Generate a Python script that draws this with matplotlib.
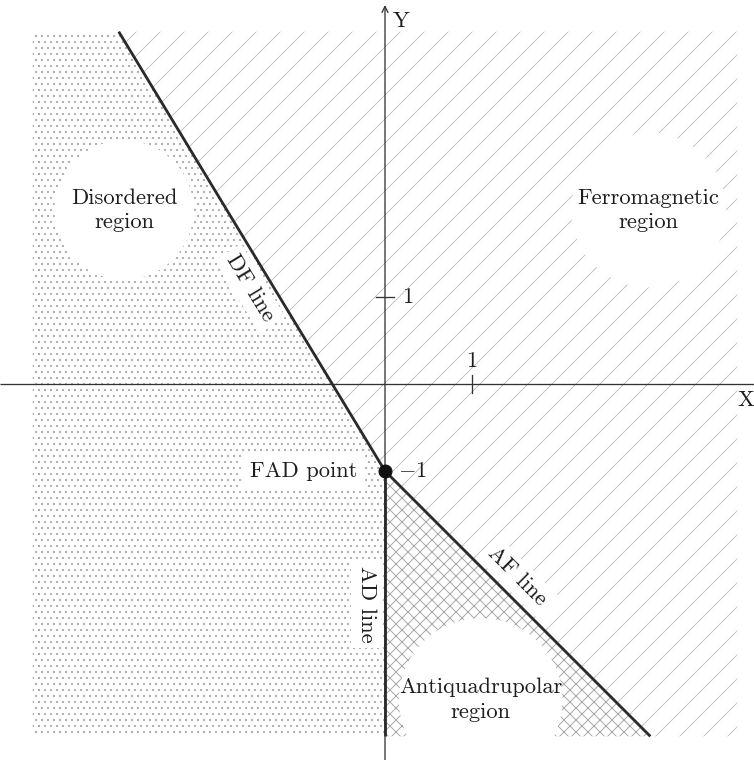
import numpy as np
import matplotlib
matplotlib.use("Agg")
import matplotlib.pyplot as plt
from matplotlib.patches import Polygon, Circle

plt.rcParams['mathtext.fontset'] = 'cm'
plt.rcParams['hatch.linewidth'] = 1.0

# ---- data ----
fad_point = [0.0, -1.0]          # FAD point (X, Y)
df_slope = -1.65                 # DF line: Y = -1 + df_slope * X  (X < 0)
af_slope = -1.0                  # AF line: Y = -1 + af_slope * X  (X > 0)
extent = 4.05                    # half-size of shaded square
region_names = ["Disordered\nregion", "Ferromagnetic\nregion", "Antiquadrupolar\nregion"]
region_centers_x = [-3.0, 3.03, 1.1]
region_centers_y = [2.0, 2.0, -3.63]
region_radii = [0.8, 0.89, 0.94]
line_names = ["DF line", "AF line", "AD line"]
x_ticks = [1]
y_ticks = [1]
x_tick_labels = ["1"]
y_tick_labels = ["1"]

DPI = 72
FS = 22.5
fig = plt.figure(figsize=(754 / DPI, 760 / DPI), dpi=DPI)
ax = fig.add_axes([0, 0, 1, 1])
ax.set_xlim(-385 / 87, (754 - 385) / 87)
ax.set_ylim((384 - 760) / 87, 384 / 87)
ax.axis('off')

fx, fy = fad_point
x_df_top = fx + (extent - fy) / df_slope
x_af_bot = fx + (-extent - fy) / af_slope

dis_poly = [(-extent, extent), (x_df_top, extent), (fx, fy), (fx, -extent), (-extent, -extent)]
fer_poly = [(x_df_top, extent), (extent, extent), (extent, -extent), (x_af_bot, -extent), (fx, fy)]
aq_poly = [(fx, fy), (x_af_bot, -extent), (fx, -extent)]

ax.add_patch(Polygon(dis_poly, closed=True, facecolor='white', edgecolor='#ababab',
                     hatch='..', lw=0, zorder=1))
ax.add_patch(Polygon(fer_poly, closed=True, facecolor='white', edgecolor='#c4c4c4',
                     hatch='/', lw=0, zorder=1))
ax.add_patch(Polygon(aq_poly, closed=True, facecolor='white', edgecolor='#aaaaaa',
                     hatch='xx', lw=0, zorder=1))

# white discs behind region labels
for cx, cy, r, name in zip(region_centers_x, region_centers_y, region_radii, region_names):
    ax.add_patch(Circle((cx, cy), r, facecolor='white', edgecolor='none', zorder=2))
    ax.text(cx, cy, name, ha='center', va='center', fontsize=FS, family='cmr10',
            linespacing=1.3, color='#1e1e1e', zorder=6)

# axes
axis_col = '#333333'
xl = ax.get_xlim()
yl = ax.get_ylim()
ax.plot([xl[0], xl[1]], [0, 0], color=axis_col, lw=1.3, zorder=3, solid_capstyle='butt')
ax.annotate('', xy=(0, (384 - 5) / 87), xytext=(0, yl[0]),
            arrowprops=dict(arrowstyle='->,head_length=0.6,head_width=0.3', lw=1.3,
                            color=axis_col, shrinkA=0, shrinkB=0), zorder=3)
ax.text((393 - 385) / 87, (384 - 21) / 87, "Y", ha='left', va='center',
        fontsize=FS, family='cmr10', color='#1e1e1e')
ax.text((746 - 385) / 87, (384 - 400) / 87, "X", ha='center', va='center',
        fontsize=FS, family='cmr10', color='#1e1e1e')

# ticks
for t, lab in zip(x_ticks, x_tick_labels):
    ax.plot([t, t], [-0.1, 0.1], color=axis_col, lw=1.3, zorder=3)
    ax.text(t, 0.26, lab, ha='center', va='center', fontsize=FS, family='cmr10', color='#1e1e1e')
for t, lab in zip(y_ticks, y_tick_labels):
    ax.plot([-0.1, 0.1], [t, t], color=axis_col, lw=1.3, zorder=3)
    ax.text(0.2, t, lab, ha='left', va='center', fontsize=FS, family='cmr10', color='#1e1e1e')
ax.text(0.15, fy, r'$-1$', ha='left', va='center', fontsize=FS, color='#1e1e1e', zorder=6)

# phase boundaries (drawn above label boxes)
bcol = '#2a2a2a'
ax.plot([x_df_top, fx], [extent, fy], color=bcol, lw=2.8, zorder=7, solid_capstyle='butt')
ax.plot([fx, x_af_bot], [fy, -extent], color=bcol, lw=2.8, zorder=7, solid_capstyle='butt')
ax.plot([fx, fx], [fy, -extent], color=bcol, lw=2.8, zorder=7, solid_capstyle='butt')

# FAD point
ax.plot([fx], [fy], 'o', color='#111111', markersize=13, zorder=8)
ax.text(-0.32, fy, "FAD point", ha='right', va='center', fontsize=FS, family='cmr10',
        color='#1e1e1e', zorder=6,
        bbox=dict(boxstyle='square,pad=0.35', facecolor='white', edgecolor='none'))

# boundary labels
df_ang = np.degrees(np.arctan(df_slope))
af_ang = np.degrees(np.arctan(af_slope))
lab_pos = [(-1.55, 1.10, df_ang), (1.52, -2.21, af_ang), (-0.21, -2.53, -90)]
for name, (lx, ly, ang) in zip(line_names, lab_pos):
    ax.text(lx, ly, name, ha='center', va='center', rotation=ang, rotation_mode='anchor',
            fontsize=FS, family='cmr10', color='#1e1e1e', zorder=6,
            bbox=dict(boxstyle='square,pad=0.25', facecolor='white', edgecolor='none'))

fig.savefig("out.png", dpi=DPI)
